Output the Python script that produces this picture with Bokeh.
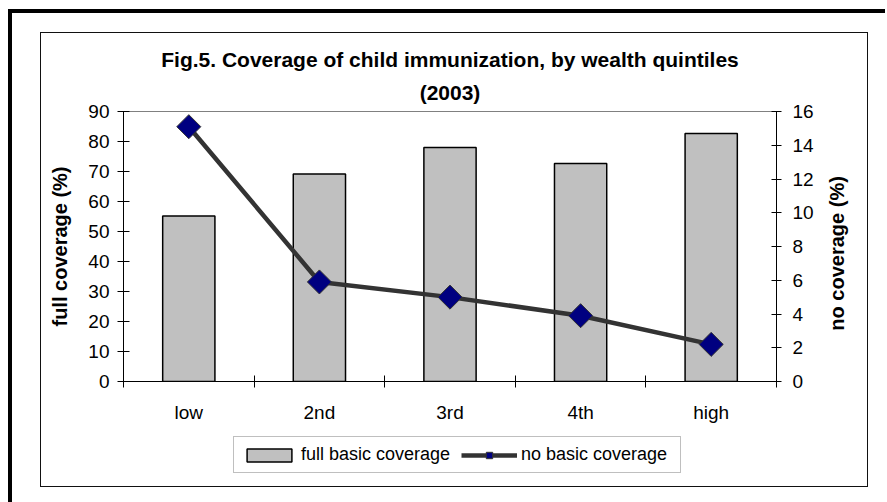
import math

import numpy as np
from bokeh.embed import file_html
from bokeh.layouts import column, row
from bokeh.models import (ColumnDataSource, FixedTicker, Label, Legend,
                          LegendItem, LinearAxis, Range1d, Title)
from bokeh.plotting import figure
from bokeh.resources import INLINE

# Wealth quintiles and immunization coverage (%)
quintiles = ["low", "2nd", "3rd", "4th", "high"]
full_basic_coverage = [55.2, 69.2, 78.0, 72.7, 82.7]
no_basic_coverage = [15.1, 5.9, 5.0, 3.9, 2.2]

left_ticks = [0, 10, 20, 30, 40, 50, 60, 70, 80, 90]
right_ticks = [0, 2, 4, 6, 8, 10, 12, 14, 16]

title_lines = ["Fig.5. Coverage of child immunization, by wealth quintiles", "(2003)"]
left_title = "full coverage (%)"
right_title = "no coverage (%)"
series_names = ["full basic coverage", "no basic coverage"]

FONT = "Liberation Sans"
W, H = 887, 502
CHART_W, CHART_H = 820, 430          # main chart; a strip on the right holds the right title
LEGEND_H = H - CHART_H

# one slot per quintile on a numeric axis; bars sit at slot centres
centres = [i + 0.5 for i in range(len(quintiles))]
boundaries = list(range(len(quintiles) + 1))

src = ColumnDataSource(dict(x=centres, q=quintiles,
                            full=full_basic_coverage, none=no_basic_coverage))

# page box (heavy top/left rules) and the thin chart-area frame, painted as
# the page background behind transparent canvases
rules = [  # (x, y, w, h, colour)
    (8, 9, 877, 4, "#000"),
    (8, 9, 4, 493, "#000"),
    (40, 32, 828, 1, "#111"),
    (40, 486, 828, 1, "#111"),
    (40, 32, 1, 455, "#111"),
    (867, 32, 1, 455, "#111"),
]
page_styles = {
    "background-color": "white",
    "background-image": ", ".join(f"linear-gradient({c}, {c})" for *_, c in rules),
    "background-position": ", ".join(f"{x}px {y}px" for x, y, *_ in rules),
    "background-size": ", ".join(f"{w}px {h}px" for _, _, w, h, _ in rules),
    "background-repeat": "no-repeat",
}

BAR_STYLE = dict(fill_color="#C0C0C0", line_color="black", line_width=1.5)
LINE_STYLE = dict(line_color="#333333", line_width=4.5)
MARK_STYLE = dict(marker="square", angle=math.pi / 4,
                  fill_color="#000080", line_color="#333333", line_width=1)

p = figure(width=CHART_W, height=CHART_H, output_backend="svg", toolbar_location=None,
           title=None,
           x_range=Range1d(0, len(quintiles)), y_range=Range1d(left_ticks[0], left_ticks[-1]),
           x_axis_type=None, y_axis_type=None,
           min_border_left=123, min_border_right=44,
           min_border_top=111, min_border_bottom=49,
           background_fill_color="white", border_fill_color=None,
           outline_line_color="#808080", outline_line_width=1)
p.extra_y_ranges = {"none": Range1d(right_ticks[0], right_ticks[-1])}


def style_axis(ax, label_size="19px"):
    ax.axis_line_color = "black"
    ax.axis_line_width = 1
    ax.major_tick_line_color = "black"
    ax.minor_tick_line_color = "black"
    ax.major_label_text_font = FONT
    ax.major_label_text_font_size = label_size
    ax.major_label_text_color = "black"
    ax.axis_label_text_font = FONT
    ax.axis_label_text_font_style = "bold"
    ax.axis_label_text_font_size = "20px"
    ax.axis_label_text_color = "black"


# left axis: full coverage
yl = LinearAxis(ticker=FixedTicker(ticks=left_ticks, minor_ticks=[]), axis_label=left_title)
style_axis(yl)
yl.major_tick_in = 6
yl.major_tick_out = 6
yl.major_label_standoff = 8
yl.axis_label_standoff = 14
p.add_layout(yl, "left")

# right axis: no coverage (its title is drawn in the strip beside the chart)
yr = LinearAxis(ticker=FixedTicker(ticks=right_ticks, minor_ticks=[]), y_range_name="none")
style_axis(yr)
yr.major_tick_in = 5
yr.major_tick_out = 5
yr.major_label_standoff = 11
p.add_layout(yr, "right")

# bottom axis: labels at slot centres, tick marks on the slot boundaries
xb = LinearAxis(ticker=FixedTicker(ticks=centres, minor_ticks=boundaries))
style_axis(xb)
xb.major_label_overrides = {c: q for c, q in zip(centres, quintiles)}
xb.major_tick_in = 0
xb.major_tick_out = 0
xb.minor_tick_in = 6
xb.minor_tick_out = 6
xb.major_label_standoff = 14
p.add_layout(xb, "below")

p.vbar(x="x", top="full", width=0.4, source=src, **BAR_STYLE)
p.line(x="x", y="none", y_range_name="none", source=src, **LINE_STYLE)
p.scatter(x="x", y="none", y_range_name="none", source=src, size=17, **MARK_STYLE)

# two-line chart title; the first added sits nearest the plot
for text, gap in zip(reversed(title_lines), [16, 0]):
    p.add_layout(Title(text=text, align="center", standoff=gap,
                       text_font=FONT, text_font_style="bold",
                       text_font_size="21px", text_color="black"), "above")

# strip to the right of the chart carrying the right-hand axis title;
# its ranges are in pixels, y counted downwards from the top
SIDE_W = W - CHART_W
side = figure(width=SIDE_W, height=CHART_H, output_backend="svg",
              toolbar_location=None, title=None, x_axis_type=None, y_axis_type=None,
              x_range=Range1d(0, SIDE_W), y_range=Range1d(CHART_H, 0),
              min_border=0, background_fill_color=None, border_fill_color=None,
              outline_line_color=None)
side.add_layout(Label(x=16, y=226, text=right_title, angle=math.pi / 2,
                      text_align="center", text_baseline="middle",
                      text_font=FONT, text_font_style="bold",
                      text_font_size="20px", text_color="black"))

# legend strip under the chart; its key glyphs are styled like the series
# and hold a single undrawable (NaN) row so only the legend keys appear
key_src = ColumnDataSource(dict(x=np.array([np.nan]), full=np.array([np.nan]),
                                none=np.array([np.nan])))
leg = figure(width=W, height=LEGEND_H, output_backend="svg", toolbar_location=None,
             title=None, x_axis_type=None, y_axis_type=None,
             x_range=Range1d(0, len(quintiles)), y_range=Range1d(0, 1),
             min_border_left=123, min_border_right=111, min_border_top=0, min_border_bottom=0,
             background_fill_color=None, border_fill_color=None, outline_line_color=None)
lb = leg.vbar(x="x", top="full", width=0.4, source=key_src, **BAR_STYLE)
ll = leg.line(x="x", y="none", source=key_src, **LINE_STYLE)
lm = leg.scatter(x="x", y="none", source=key_src, size=17, **MARK_STYLE)
legend = Legend(items=[LegendItem(label=series_names[0], renderers=[lb], index=0),
                       LegendItem(label=series_names[1], renderers=[ll, lm], index=0)],
                orientation="horizontal", location=(110, 29),
                glyph_width=56, glyph_height=16, label_standoff=4,
                label_width=152, spacing=8, padding=7, margin=0,
                label_text_font=FONT, label_text_font_size="18px",
                label_text_color="black",
                border_line_color="#808080", border_line_width=1,
                background_fill_color="white", background_fill_alpha=1)
leg.add_layout(legend, "center")

page = column(row(p, side, spacing=0), leg, spacing=0, styles=page_styles)

open("out.html", "w").write(file_html(page, INLINE))
